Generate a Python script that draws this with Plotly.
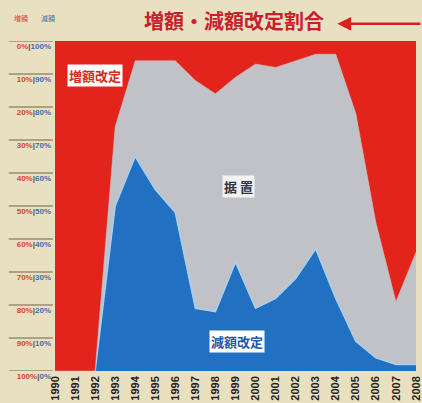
import plotly.graph_objects as go

# Share of rent revisions per year (%), stacked to 100
years = list(range(1990, 2009))
decrease = [0, 0, 0, 50, 65, 55, 48, 19, 18, 33, 19, 22, 28, 37, 22, 9, 4, 2, 2]
unchanged = [0, 0, 0, 24, 29, 39, 46, 69, 66, 56, 74, 70, 66, 59, 74, 69, 41, 19, 34]
increase = [100, 100, 100, 26, 6, 6, 6, 12, 16, 11, 7, 8, 6, 4, 4, 22, 55, 79, 64]

y_ticks = list(range(0, 101, 10))

RED = "#e3241d"
GRAY = "#c0c2c7"
BLUE = "#2170c1"
BG = "#e9e0c2"
INC_TXT = "#d9432f"
DEC_TXT = "#3d6fb0"

fig = go.Figure()
fig.add_trace(go.Scatter(
    x=years, y=decrease, name="減額改定", stackgroup="s", mode="lines",
    line=dict(color="#a9cfee", width=1.5), fillcolor=BLUE,
))
fig.add_trace(go.Scatter(
    x=years, y=unchanged, name="据置", stackgroup="s", mode="lines",
    line=dict(color=GRAY, width=0.5), fillcolor=GRAY,
))
fig.add_trace(go.Scatter(
    x=years, y=increase, name="増額改定", stackgroup="s", mode="lines",
    line=dict(color=RED, width=0.5), fillcolor=RED,
))

tick_text = [
    f"<span style='color:{INC_TXT}'>{100 - v}%</span>"
    f"<span style='color:#5a5236'>|</span>"
    f"<span style='color:{DEC_TXT}'>{v}%</span>"
    for v in y_ticks
]

# underline under each pair of scale labels
for v in y_ticks:
    fig.add_shape(type="line", xref="paper", yref="y",
                  x0=-0.128, x1=-0.006, y0=v, y1=v,
                  line=dict(color="#6e6444", width=1))

# in-chart series labels
label_font = dict(family="Noto Sans CJK JP", size=13, weight="bold")
fig.add_annotation(x=1992.0, y=89.5, text="増額改定", showarrow=False,
                   font=dict(label_font, color="#d92a20"),
                   bgcolor="white", borderpad=1)
fig.add_annotation(x=1999.15, y=56, text="据 置", showarrow=False,
                   font=dict(label_font, color="#2f3440"),
                   bgcolor="#f2f2f2", borderpad=1)
fig.add_annotation(x=1999.05, y=8.8, text="減額改定", showarrow=False,
                   font=dict(label_font, color="#1d5aa8"),
                   bgcolor="white", borderpad=1)

# scale column headers
fig.add_annotation(xref="paper", yref="paper", x=-0.12, y=1.07,
                   yanchor="middle", text="増額", showarrow=False,
                   font=dict(family="Noto Sans CJK JP", size=7, color=INC_TXT))
fig.add_annotation(xref="paper", yref="paper", x=-0.045, y=1.07,
                   yanchor="middle", text="減額", showarrow=False,
                   font=dict(family="Noto Sans CJK JP", size=7, color=DEC_TXT))

# title with pointer arrow
fig.add_annotation(xref="paper", yref="paper", x=0.495, y=1.062,
                   yanchor="middle", text="増額・減額改定割合", showarrow=False,
                   font=dict(family="Noto Sans CJK JP", size=20,
                             color="#c8202a", weight="bold"))
fig.add_annotation(xref="paper", yref="paper", x=0.78, y=1.052,
                   yanchor="middle", text="", showarrow=True, ax=90, ay=0,
                   arrowhead=2, arrowsize=1.1, arrowwidth=2.5,
                   arrowcolor="#d8201c")

fig.update_layout(
    width=422, height=403,
    margin=dict(l=55, r=0, t=41, b=32),
    paper_bgcolor=BG, plot_bgcolor=BG,
    showlegend=False,
    xaxis=dict(
        range=[1990, 2008.05], tickmode="array", tickvals=years,
        ticktext=[str(y) for y in years], tickangle=-90,
        tickfont=dict(family="Liberation Sans", size=11,
                      color="#262420", weight="bold"),
        ticklabeloverflow="allow",
        showgrid=True, gridcolor="rgba(255,255,255,0.4)", griddash="dot",
        gridwidth=1, layer="above traces", zeroline=False,
        showline=False, ticks="", ticklabelstandoff=2,
    ),
    yaxis=dict(
        range=[0, 100], tickmode="array", tickvals=y_ticks,
        ticktext=tick_text, showgrid=False, zeroline=False,
        tickfont=dict(family="Liberation Sans", size=8, weight="bold"),
        ticks="", ticklabelshift=5, ticklabelstandoff=3,
    ),
)

fig.write_html("out.html")
